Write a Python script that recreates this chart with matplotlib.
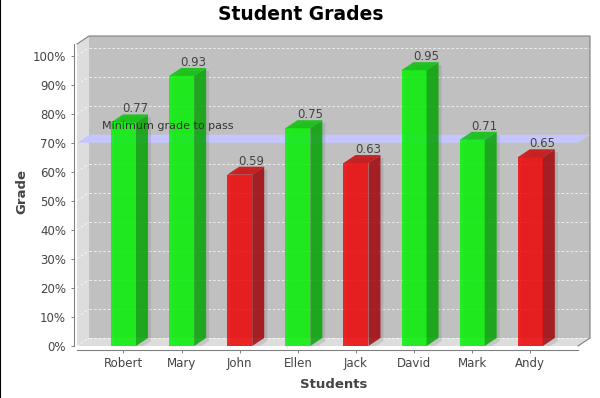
import matplotlib.pyplot as plt
from matplotlib.patches import Polygon, Rectangle
from matplotlib.lines import Line2D

# Datos
students = ['Robert', 'Mary', 'John', 'Ellen', 'Jack', 'David', 'Mark', 'Andy']
grades = [0.77, 0.93, 0.59, 0.75, 0.63, 0.95, 0.71, 0.65]
pass_grade = 0.70
y_ticks = [0.0, 0.1, 0.2, 0.3, 0.4, 0.5, 0.6, 0.7, 0.8, 0.9, 1.0]
y_tick_labels = ['0%', '10%', '20%', '30%', '40%', '50%', '60%', '70%', '80%', '90%', '100%']

W, H = 600, 398
fig = plt.figure(figsize=(W / 100, H / 100), dpi=100)
fig.patch.set_facecolor('white')

# area frontal del grafico (pixeles)
left, right, top, bottom = 77, 578, 44, 346
ax = fig.add_axes([left / W, 1 - bottom / H, (right - left) / W, (bottom - top) / H])
ax.set_xlim(-0.80, 7.82)
ax.set_ylim(0, 1.04)
ax.patch.set_visible(False)

x0, x1 = ax.get_xlim()
y0, y1 = ax.get_ylim()
px_x = (x1 - x0) / (right - left)
px_y = (y1 - y0) / (bottom - top)
# desplazamiento 3D: 12 px a la derecha, 8 px hacia arriba
dx = 12 * px_x
dy = 8 * px_y

# paredes: fondo, izquierda, suelo
ax.add_patch(Rectangle((x0 + dx, y0 + dy), x1 - x0, y1 - y0, facecolor='#C0C0C0',
                       lw=0, clip_on=False, zorder=0))
ax.add_patch(Polygon([(x0, y0), (x0, y1), (x0 + dx, y1 + dy), (x0 + dx, y0 + dy)],
                     closed=True, facecolor='#DDDDDD', lw=0, clip_on=False, zorder=0))
ax.add_patch(Polygon([(x0, y0), (x1, y0), (x1 + dx, y0 + dy), (x0 + dx, y0 + dy)],
                     closed=True, facecolor='#DDDDDD', lw=0, clip_on=False, zorder=0))

# zona de recorte para las sombras (fondo + suelo)
box = Polygon([(x0, y0), (x1, y0), (x1 + dx, y0 + dy), (x1 + dx, y1 + dy),
               (x0 + dx, y1 + dy), (x0 + dx, y0 + dy)], closed=True,
              transform=ax.transData, visible=False)
ax.add_patch(box)

# lineas de la cuadricula
for t in y_ticks:
    ax.plot([x0 + dx, x1 + dx], [t + dy, t + dy], color='white', lw=0.6,
            dashes=(3, 2.5), alpha=0.85, clip_on=False, zorder=1)
    ax.plot([x0, x0 + dx], [t, t + dy], color='white', lw=0.6,
            dashes=(3, 2.5), alpha=0.85, clip_on=False, zorder=1)

# banda del minimo para aprobar
ax.add_patch(Polygon([(x0, pass_grade), (x1, pass_grade), (x1 + dx, pass_grade + dy),
                      (x0 + dx, pass_grade + dy)], closed=True, facecolor='#C6C6FF',
                     lw=0, clip_on=False, zorder=2))

# barras 3D
w = 0.43
sx, sy = 3 * px_x, -3 * px_y
for i, v in enumerate(grades):
    if v >= pass_grade:
        front, side, topc = '#00F500', '#00A500', '#00C300'
    else:
        front, side, topc = '#F20000', '#A20004', '#CA0204'
    # sombra
    sh = Polygon([(i - w / 2 + sx, sy), (i + w / 2 + sx, sy), (i + w / 2 + dx + sx, dy + sy),
                  (i + w / 2 + dx + sx, v + dy + sy), (i - w / 2 + dx + sx, v + dy + sy),
                  (i - w / 2 + sx, v + sy)], closed=True, facecolor='#606060',
                 alpha=0.18, lw=0, zorder=2.5)
    ax.add_patch(sh)
    sh.set_clip_path(box)
    ax.add_patch(Rectangle((i - w / 2, 0), w, v, facecolor=front, alpha=0.82,
                           lw=0, clip_on=False, zorder=3))
    ax.add_patch(Polygon([(i + w / 2, 0), (i + w / 2 + dx, dy), (i + w / 2 + dx, v + dy),
                          (i + w / 2, v)], closed=True, facecolor=side, alpha=0.82,
                         lw=0, clip_on=False, zorder=3))
    ax.add_patch(Polygon([(i - w / 2, v), (i - w / 2 + dx, v + dy), (i + w / 2 + dx, v + dy),
                          (i + w / 2, v)], closed=True, facecolor=topc, alpha=0.82,
                         lw=0, clip_on=False, zorder=3))
    ax.annotate('%.2f' % v, xy=(i + dx, v + dy), xytext=(0, 2), textcoords='offset pixels',
                ha='center', va='baseline', fontsize=8.5, color='#444444', zorder=5)

ax.annotate('Minimum grade to pass', xy=(x0, pass_grade), xytext=(25, 14),
            textcoords='offset pixels', ha='left', va='baseline', fontsize=8,
            color='#333333', zorder=5)

# contorno de la caja
ax.plot([x0, x0 + dx, x1 + dx, x1 + dx, x1], [y1, y1 + dy, y1 + dy, y0 + dy, y0],
        color='#808080', lw=0.8, clip_on=False, zorder=4)

# ejes
for s in ['top', 'right']:
    ax.spines[s].set_visible(False)
ax.spines['left'].set_position(('outward', 2.2))
ax.spines['bottom'].set_position(('outward', 2.9))
for s in ['left', 'bottom']:
    ax.spines[s].set_color('#808080')
    ax.spines[s].set_linewidth(0.8)

ax.set_yticks(y_ticks)
ax.set_yticklabels(y_tick_labels)
ax.set_xticks(range(len(students)))
ax.set_xticklabels(students)
ax.tick_params(axis='y', length=2.2, width=0.7, color='#808080', labelsize=8.5,
               labelcolor='#444444', pad=3.5)
ax.tick_params(axis='x', length=2, width=0.7, color='#808080', labelsize=8.5,
               labelcolor='#444444', pad=3)

# titulos
fig.text(301 / W, 1 - 14 / H, 'Student Grades', ha='center', va='center',
         fontsize=13.5, fontweight='bold', color='black')
fig.text(333.5 / W, 1 - 385 / H, 'Students', ha='center', va='center',
         fontsize=9.5, fontweight='bold', color='#444444')
fig.text(22 / W, 1 - 191 / H, 'Grade', ha='center', va='center', rotation=90,
         fontsize=9.5, fontweight='bold', color='#444444')

# borde negro a la izquierda
fig.add_artist(Line2D([0.0008, 0.0008], [0, 1], transform=fig.transFigure,
                      color='black', lw=1.5))

fig.savefig('out.png', dpi=100)
